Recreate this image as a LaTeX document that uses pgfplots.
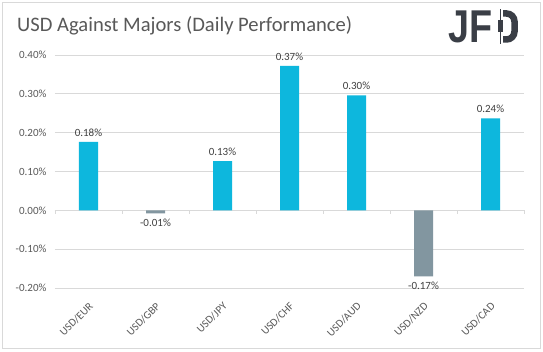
\documentclass[border=0pt]{standalone}
\usepackage{pgfplots}
\pgfplotsset{compat=1.18}
\usepackage{fontspec}
\setmainfont{Carlito}
\setsansfont{Liberation Sans}
\definecolor{barcyan}{RGB}{13,183,221}
\definecolor{bargrey}{RGB}{130,150,160}
\definecolor{gridc}{RGB}{217,217,217}
\definecolor{tickc}{RGB}{89,89,89}
\definecolor{lblc}{RGB}{64,64,64}
\definecolor{logoc}{RGB}{58,62,70}
\begin{document}
\begin{tikzpicture}[x=1pt,y=1pt]
\useasboundingbox (0,0) rectangle (543,351);
\fill[white] (0,0) rectangle (543,351);
\draw[gridc,line width=1pt] (2.5,2.5) rectangle (540.5,348.5);
\node[anchor=west,font=\fontsize{20.6}{24}\selectfont,text=tickc,inner sep=0] at (17,325) {USD Against Majors (Daily Performance)};
% logo
\node[anchor=south west,inner sep=0,text=logoc,font=\sffamily\bfseries\fontsize{46}{46}\selectfont,xscale=0.82] at (448,308) {JF};
\draw[logoc,line width=1pt] (500,307) -- (500,342);
\fill[logoc] (497.5,319) rectangle (502.5,331);
\draw[logoc,line width=6.5pt,rounded corners=8pt] (503,337.5) -- (514.5,337.5) -- (514.5,311.5) -- (503,311.5);
\begin{axis}[
  at={(55pt,63pt)}, anchor=south west,
  scale only axis, width=469pt, height=233pt,
  xmin=-0.5, xmax=6.5, ymin=-0.2, ymax=0.4,
  axis line style={draw=none},
  ymajorgrids, grid style={gridc, line width=0.8pt},
  ytick={-0.2,-0.1,0,0.1,0.2,0.3,0.4},
  yticklabels={-0.20\%,-0.10\%,0.00\%,0.10\%,0.20\%,0.30\%,0.40\%},
  yticklabel style={font=\fontsize{11}{13}\selectfont, text=tickc, xshift=-5pt},
  xtick={0,1,2,3,4,5,6},
  xticklabels={USD/EUR,USD/GBP,USD/JPY,USD/CHF,USD/AUD,USD/NZD,USD/CAD},
  xticklabel style={font=\fontsize{11}{13}\selectfont, text=tickc, xshift=5pt, yshift=-14pt, rotate=45, anchor=east},
  major tick length=0pt,
  bar width=19pt,
  clip=false,
]
\draw[gridc,line width=0.8pt] (axis cs:-0.5,0) -- (axis cs:6.5,0);
\draw[gridc,line width=0.8pt]
  (axis cs:-0.5,0) -- (axis cs:-0.5,-0.0105)
  (axis cs:0.5,0) -- (axis cs:0.5,-0.0105)
  (axis cs:1.5,0) -- (axis cs:1.5,-0.0105)
  (axis cs:2.5,0) -- (axis cs:2.5,-0.0105)
  (axis cs:3.5,0) -- (axis cs:3.5,-0.0105)
  (axis cs:4.5,0) -- (axis cs:4.5,-0.0105)
  (axis cs:5.5,0) -- (axis cs:5.5,-0.0105)
  (axis cs:6.5,0) -- (axis cs:6.5,-0.0105);
\addplot[ybar, bar shift=0pt, fill=barcyan, draw=none,
  point meta=explicit symbolic,
  nodes near coords, nodes near coords align={vertical},
  every node near coord/.append style={font=\fontsize{11}{13}\selectfont, text=lblc, yshift=2pt}]
  table[meta=label] {
x y label
0 0.176 0.18\%
2 0.127 0.13\%
3 0.372 0.37\%
4 0.296 0.30\%
6 0.237 0.24\%
};
\addplot[ybar, bar shift=0pt, fill=bargrey, draw=none,
  point meta=explicit symbolic,
  nodes near coords,
  every node near coord/.append style={font=\fontsize{11}{13}\selectfont, text=lblc, anchor=north, yshift=-2pt}]
  table[meta=label] {
x y label
1 -0.008 -0.01\%
5 -0.170 -0.17\%
};
\end{axis}
\end{tikzpicture}
\end{document}
